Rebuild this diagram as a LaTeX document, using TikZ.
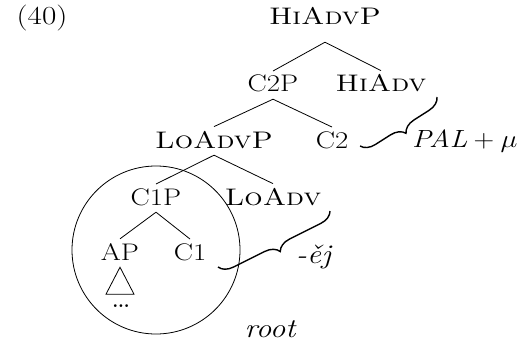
\documentclass[tikz,border=0pt]{standalone}
\usepackage{graphicx}
\usetikzlibrary{decorations.pathreplacing}
\newcommand\wx[1]{\scalebox{1.2}[1]{#1}}
\newcommand\wn[1]{\scalebox{1.15}[1]{#1}}
\begin{document}
\begin{tikzpicture}[x=1pt,y=-1pt,
  lab/.style={anchor=base,font=\fontsize{24}{28}\selectfont,inner xsep=0pt,inner ysep=4pt,text depth=3pt},
  toplab/.style={lab,text depth=13pt},
  branch/.style={line width=0.8pt},
  bracel/.style={line width=1.4pt,decorate,decoration={brace,amplitude=14pt,aspect=0.5}},
  note/.style={anchor=base,font=\fontsize{27}{31}\selectfont\itshape,inner sep=0pt}]
\useasboundingbox (0,0) rectangle (522,345);
\node[anchor=base,font=\fontsize{26}{30}\selectfont,inner sep=0pt] (ex) at (42,25) {\wx{(40)}};
\node[toplab] (hiadvp) at (325,25) {\wx{\textsc{HiAdvP}}};
\node[lab] (c2p) at (273,92) {\wx{C2P}};
\node[lab] (hiadv) at (381,92) {\wx{\textsc{HiAdv}}};
\node[lab] (loadvp) at (214,148) {\wx{\textsc{LoAdvP}}};
\node[lab] (c2) at (332,148) {\wx{C2}};
\node[lab] (c1p) at (156,205) {\wx{C1P}};
\node[lab] (loadv) at (273,205) {\wx{\textsc{LoAdv}}};
\node[lab] (ap) at (120,260) {\wx{AP}};
\node[lab] (c1) at (190,260) {\wx{C1}};
\node[anchor=center,font=\fontsize{34}{38}\selectfont,inner sep=0pt] (dots) at (121,306) {\dots};
\node[circle,draw,line width=0.8pt,minimum size=168pt,inner sep=0pt] (rootcirc) at (156,250) {};
\node[note] (root) at (270,337) {\wn{root}};
\node[anchor=base west,font=\fontsize{26}{30}\selectfont,inner sep=0pt] (pal) at (412,147) {\wn{$\mathit{PAL}+\mu$}};
\node[note,anchor=base west] (ej) at (296,263) {\wn{-ě\kern0.5pt j}};
\draw[branch] (hiadvp.south) -- (c2p.north);
\draw[branch] (hiadvp.south) -- (hiadv.north);
\draw[branch] (c2p.south) -- (loadvp.north);
\draw[branch] (c2p.south) -- (c2.north);
\draw[branch] (loadvp.south) -- (c1p.north);
\draw[branch] (loadvp.south) -- (loadv.north);
\draw[branch] (c1p.south) -- (ap.north);
\draw[branch] (c1p.south) -- (c1.north);
\draw[branch] (ap.south) -- ++(-14,27) -- ++(28,0) -- cycle;
\coordinate (b1t) at (437,97);
\coordinate (b1b) at (360,146);
\coordinate (b2t) at (330,211);
\coordinate (b2b) at (218,267);
\draw[bracel] (b1t) -- (b1b);
\draw[bracel] (b2t) -- (b2b);
\end{tikzpicture}
\end{document}
